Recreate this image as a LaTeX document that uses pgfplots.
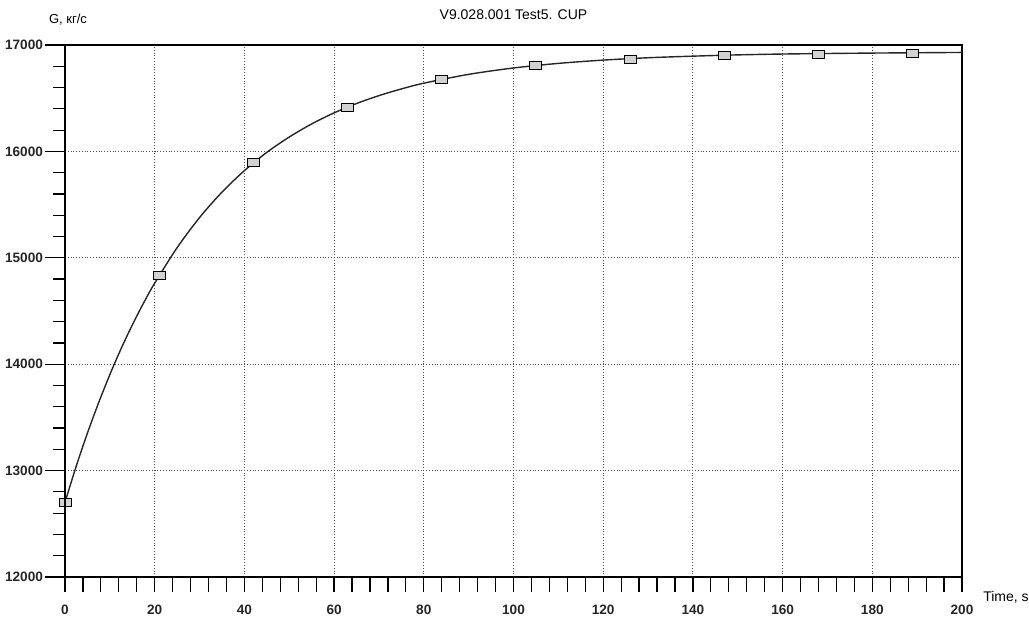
\documentclass[border=0pt]{standalone}
\usepackage{fontspec}
\setmainfont{Liberation Sans}
\usepackage{pgfplots}
\pgfplotsset{compat=1.18}
\begin{document}
\begin{tikzpicture}
\begin{axis}[
  scale only axis,
  width=448.5pt, height=266pt,
  xmin=0, xmax=200, ymin=12000, ymax=17000,
  xtick={0,20,...,200},
  ytick={12000,13000,...,17000},
  minor y tick num=4,
  xtick pos=bottom, ytick pos=left,
  tick align=outside,
  major tick length=7.5pt,
  minor tick length=6pt,
  extra x ticks={4,8,12,16,24,28,32,36,44,48,52,56,64,68,72,76,84,88,92,96,104,108,112,116,124,128,132,136,144,148,152,156,164,168,172,176,184,188,192,196},
  extra x tick labels={},
  extra x tick style={grid=none},
  xmajorgrids, ymajorgrids,
  major grid style={densely dotted, black!70, line width=0.5pt},
  axis line style={line width=1pt},
  tick style={black, line width=0.6pt},
  scaled y ticks=false, scaled x ticks=false,
  /pgf/number format/assume math mode=true,
  /pgf/number format/1000 sep={},
  tick label style={font=\bfseries\fontsize{6.8}{8}\selectfont, text=black!85},
  xticklabel style={yshift=-3pt},
  yticklabel style={xshift=0pt},
  clip=false,
]
\addplot[black!85, line width=0.7pt, smooth] coordinates {
(0,12702) (2.5,13041) (5,13352) (7.5,13638) (10,13902) (12.5,14145) (15,14368) (17.5,14573)
(20,14762) (25,15095) (30,15378) (35,15617) (40,15819) (45,15991) (50,16135) (55,16258)
(60,16362) (65,16450) (70,16524) (75,16587) (80,16641) (90,16724) (100,16784) (110,16827)
(120,16858) (130,16880) (140,16895) (150,16907) (160,16915) (170,16920) (180,16924)
(190,16927) (200,16930)
};
\addplot[only marks, mark=square*, mark size=2pt,
  mark options={xscale=1.5, fill=gray!35, draw=black, line width=0.5pt}] coordinates {
(0.2,12702) (21,14832) (42,15891) (63,16411) (84,16671) (105,16803)
(126,16866) (147,16897) (168,16915) (189,16922)
};
\node[font=\fontsize{7}{9}\selectfont] at (axis description cs:0.5,1) [yshift=15pt] {V9.028.001 Test5. CUP};
\node[font=\fontsize{6.5}{9}\selectfont] at (axis description cs:0,1) [xshift=1.5pt, yshift=12.5pt] {G, кг/с};
\node[font=\fontsize{7}{9}\selectfont] at (axis description cs:1,0) [xshift=22pt, yshift=-10pt] {Time, s};
\end{axis}
\begin{axis}[
  scale only axis,
  width=448.5pt, height=266pt,
  xmin=0, xmax=200, ymin=12000, ymax=17000,
  hide x axis,
  axis y line*=left,
  axis line style={line width=1pt},
  ytick={12000,13000,...,17000},
  yticklabels={},
  scaled y ticks=false,
  tick align=outside,
  major tick length=10pt,
  tick style={black, line width=0.6pt},
]
\end{axis}
\pgfresetboundingbox
\path[use as bounding box] (-32.5pt,-21pt) rectangle (482pt,288.5pt);
\end{tikzpicture}
\end{document}
